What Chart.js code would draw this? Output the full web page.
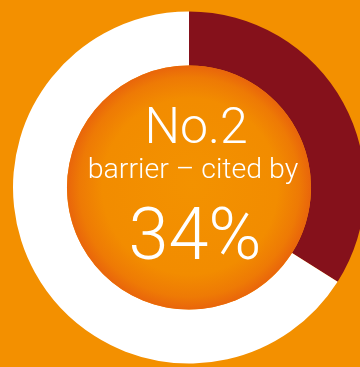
<!DOCTYPE html>
<html>
<head>
<meta charset="utf-8">
<script src="https://cdn.jsdelivr.net/npm/chart.js@4.4.0/dist/chart.umd.min.js"></script>
<style>
  html, body { margin: 0; padding: 0; width: 360px; height: 367px; overflow: hidden; background: #F39000; }
  #wrap { position: absolute; left: 0; top: 0; width: 378px; height: 375px; }
</style>
</head>
<body>
<div id="wrap"><canvas id="c" width="378" height="375"></canvas></div>
<script>
const categories = ["Cited as barrier", "Others"];
const values = [34, 66];
const colors = ["#85111B", "#FFFFFF"];
const centerLines = ["No.2", "barrier \u2013 cited by", "34%"];

const centerPlugin = {
  id: 'centerDisc',
  afterDatasetsDraw(chart) {
    const arc = chart.getDatasetMeta(0).data[0];
    if (!arc) return;
    const ctx = chart.ctx;
    const x = arc.x, y = arc.y, r = arc.innerRadius;
    ctx.save();
    const g = ctx.createRadialGradient(x + 4, y - 4, 0, x, y, r);
    g.addColorStop(0, '#F39200');
    g.addColorStop(0.72, '#F28C00');
    g.addColorStop(0.9, '#EE7A05');
    g.addColorStop(1, '#E9650B');
    ctx.beginPath();
    ctx.arc(x, y, r, 0, Math.PI * 2);
    ctx.fillStyle = g;
    ctx.fill();
    ctx.fillStyle = '#FFFFFF';
    ctx.textAlign = 'center';
    ctx.textBaseline = 'alphabetic';
    ctx.font = '300 50px Roboto, "Liberation Sans", sans-serif';
    ctx.fillText(centerLines[0], x + 7, y - 44.5);
    ctx.font = '300 28.5px Roboto, "Liberation Sans", sans-serif';
    ctx.fillText(centerLines[1], x + 4, y - 9.5);
    ctx.font = '300 72px Roboto, "Liberation Sans", sans-serif';
    ctx.fillText(centerLines[2], x + 6, y + 71.5);
    ctx.restore();
  }
};

new Chart(document.getElementById('c'), {
  type: 'doughnut',
  data: {
    labels: categories,
    datasets: [{
      data: values,
      backgroundColor: colors,
      borderWidth: 0,
      radius: 176,
      cutout: 130
    }]
  },
  options: {
    responsive: false,
    devicePixelRatio: 1,
    animation: false,
    layout: { padding: 0 },
    plugins: { legend: { display: false }, tooltip: { enabled: false } }
  },
  plugins: [centerPlugin]
});
</script>
</body>
</html>
